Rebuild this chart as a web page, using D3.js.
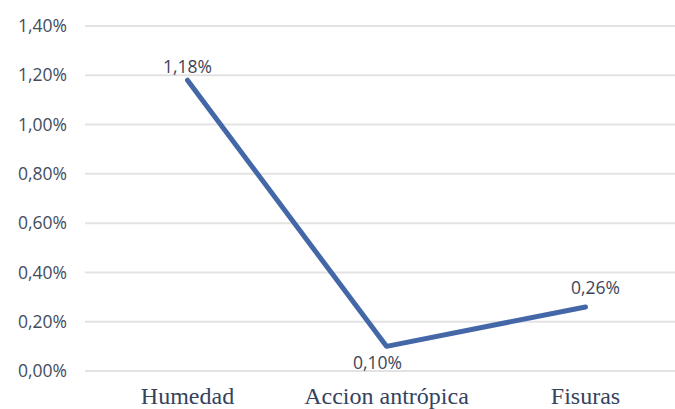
<!DOCTYPE html>
<html>
<head>
<meta charset="utf-8">
<script src="https://cdn.jsdelivr.net/npm/d3@7"></script>
<style>
  html, body { margin: 0; padding: 0; background: #fff; }
  svg { display: block; }
</style>
</head>
<body>
<svg id="chart" width="675" height="409"></svg>
<script>
// Category shares of damage causes
const categories = ["Humedad", "Accion antrópica", "Fisuras"];
const values = [0.0118, 0.0010, 0.0026];
const valueLabels = ["1,18%", "0,10%", "0,26%"];
const yTicks = [0, 0.002, 0.004, 0.006, 0.008, 0.010, 0.012, 0.014];

const svg = d3.select("#chart");
const W = 675;
const plot = { left: 88, right: 685, top: 26, bottom: 371 };

const x = d3.scaleBand().domain(categories).range([plot.left, plot.right]).padding(0);
const y = d3.scaleLinear().domain([0, 0.014]).range([plot.bottom, plot.top]);

const fmt = v => (v * 100).toFixed(2).replace(".", ",") + "%";
const sans = "'Open Sans', 'Noto Sans', sans-serif";

// horizontal gridlines
svg.append("g").selectAll("line").data(yTicks).join("line")
  .attr("x1", 85).attr("x2", W)
  .attr("y1", d => y(d)).attr("y2", d => y(d))
  .attr("stroke", "#e3e3e3").attr("stroke-width", 2);

// y axis labels
const yAxis = d3.axisLeft(y).tickValues(yTicks).tickFormat(fmt).tickSize(0).tickPadding(0);
const gy = svg.append("g").attr("transform", "translate(67,0)").call(yAxis);
gy.select(".domain").remove();
gy.selectAll("text")
  .attr("font-family", sans)
  .attr("font-size", 17.5).attr("fill", "#434d5e");

// x axis labels
const xAxis = d3.axisBottom(x).tickSize(0).tickPadding(0);
const gx = svg.append("g").attr("transform", "translate(0,404)").call(xAxis);
gx.select(".domain").remove();
gx.selectAll("text")
  .attr("dy", 0)
  .attr("font-family", "'Liberation Serif', 'DejaVu Serif', serif")
  .attr("font-size", 24).attr("fill", "#34435e");

// line series
const cx = d => x(d) + x.bandwidth() / 2;
const line = d3.line().x((d, i) => cx(categories[i])).y(d => y(d));
svg.append("path").datum(values)
  .attr("d", line)
  .attr("fill", "none").attr("stroke", "#4467a8")
  .attr("stroke-width", 5).attr("stroke-linecap", "round").attr("stroke-linejoin", "round");

// data labels
const labelOffsets = [[0, -7], [-9, 23], [10, -13]];
svg.append("g").selectAll("text").data(values).join("text")
  .attr("x", (d, i) => cx(categories[i]) + labelOffsets[i][0])
  .attr("y", (d, i) => y(d) + labelOffsets[i][1])
  .attr("text-anchor", "middle")
  .attr("font-family", sans)
  .attr("font-size", 17.5).attr("fill", "#3d4557")
  .text((d, i) => valueLabels[i]);
</script>
</body>
</html>
